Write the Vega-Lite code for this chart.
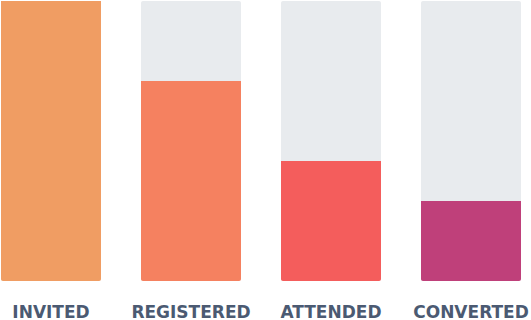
{
  "$schema": "https://vega.github.io/schema/vega-lite/v6.json",
  "width": 520,
  "height": 280,
  "autosize": {"type": "none"},
  "padding": {"left": 1, "top": 1, "right": 10, "bottom": 39},
  "background": "white",
  "config": {"view": {"stroke": null}, "axis": {"grid": false}},
  "data": {
    "values": [
      {"stage": "INVITED", "value": 700, "total": 700},
      {"stage": "REGISTERED", "value": 500, "total": 700},
      {"stage": "ATTENDED", "value": 300, "total": 700},
      {"stage": "CONVERTED", "value": 200, "total": 700}
    ]
  },
  "encoding": {
    "x": {
      "field": "stage",
      "type": "nominal",
      "sort": null,
      "scale": {"paddingInner": 0.285714, "paddingOuter": 0},
      "axis": {
        "title": null,
        "labelAngle": 0,
        "ticks": false,
        "domain": false,
        "labelFont": "DejaVu Sans",
        "labelFontWeight": "bold",
        "labelFontSize": 17,
        "labelColor": "#4B5A72",
        "labelPadding": 23
      }
    }
  },
  "layer": [
    {
      "mark": {"type": "bar", "color": "#E8EBEE", "cornerRadius": 2},
      "encoding": {
        "y": {"field": "total", "type": "quantitative", "scale": {"domain": [0, 700], "nice": false}, "axis": null}
      }
    },
    {
      "mark": {"type": "bar", "cornerRadiusBottomLeft": 2, "cornerRadiusBottomRight": 2},
      "encoding": {
        "y": {"field": "value", "type": "quantitative", "scale": {"domain": [0, 700], "nice": false}, "axis": null},
        "color": {
          "field": "stage",
          "type": "nominal",
          "scale": {"domain": ["INVITED", "REGISTERED", "ATTENDED", "CONVERTED"], "range": ["#F09D63", "#F58160", "#F45D5C", "#BF407A"]},
          "legend": null
        }
      }
    }
  ]
}
